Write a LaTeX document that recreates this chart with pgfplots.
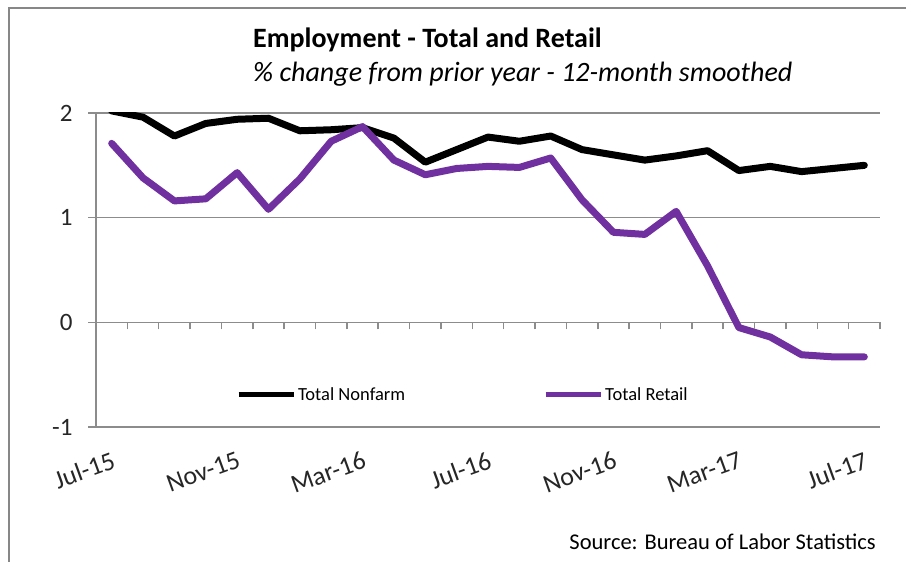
\documentclass[border=0pt]{standalone}
\usepackage{fontspec}
\setmainfont{Carlito}
\usepackage{pgfplots}
\pgfplotsset{compat=1.18}
\definecolor{gridgray}{RGB}{140,140,140}
\definecolor{retail}{RGB}{112,48,160}
\definecolor{framegray}{RGB}{135,135,135}
\begin{document}
\begin{tikzpicture}[x=1pt,y=1pt]
\path[use as bounding box] (0,0) rectangle (906,562);
\draw[framegray, line width=2.5pt] (9,0) -- (9,554) -- (906,554);
\node[anchor=base west, inner sep=0, font=\fontsize{28}{32}\selectfont\bfseries] at (253,514) {Employment - Total and Retail};
\node[anchor=base west, inner sep=0, font=\fontsize{28}{32}\selectfont\itshape] at (253,480) {\% change from prior year - 12-month smoothed};
\node[anchor=base east, inner sep=0, font=\fontsize{22.5}{26}\selectfont] at (876,12) {Source: Bureau of Labor Statistics};

\begin{axis}[
  at={(96pt,135pt)}, anchor=south west,
  scale only axis, width=784pt, height=314pt,
  xmin=-0.5, xmax=24.5, ymin=-1, ymax=2,
  axis x line*=bottom, axis y line*=left,
  axis line style={gridgray, line width=1.5pt, -},
  xtick={0,4,...,24},
  xticklabels={Jul-15,Nov-15,Mar-16,Jul-16,Nov-16,Mar-17,Jul-17},
  x tick style={draw=none},
  ytick={-1,0,1,2},
  yticklabels={-1,0,1,2},
  y tick style={gridgray, line width=1.5pt},
  tick align=outside,
  major tick length=8pt,
  ymajorgrids, grid style={gridgray, line width=1.5pt},
  tick label style={text=black!85},
  xticklabel style={font=\fontsize{26}{30}\selectfont, rotate=20, anchor=north east, yshift=-11pt, xshift=-3pt},
  yticklabel style={font=\fontsize{25}{30}\selectfont, anchor=east, xshift=-12pt},
  legend style={draw=none, fill=none, at={(0.468,0.102)}, anchor=center,
    legend columns=2, font=\fontsize{18.5}{22}\selectfont,
    /tikz/every even column/.append style={column sep=136pt}},
  legend image code/.code={\draw[#1, line width=5pt, line cap=butt] (0pt,0pt) -- (55pt,0pt);},
]
\addplot[black, line width=7pt, line join=round, line cap=round] coordinates {
(0,2.02) (1,1.96) (2,1.78) (3,1.90) (4,1.94) (5,1.95) (6,1.83) (7,1.84) (8,1.86)
(9,1.76) (10,1.53) (11,1.65) (12,1.77) (13,1.73) (14,1.78) (15,1.65) (16,1.60)
(17,1.55) (18,1.59) (19,1.64) (20,1.45) (21,1.49) (22,1.44) (23,1.47) (24,1.50)};
\addlegendentry{Total Nonfarm}
\addplot[retail, line width=7pt, line join=round, line cap=round] coordinates {
(0,1.71) (1,1.38) (2,1.16) (3,1.18) (4,1.43) (5,1.08) (6,1.37) (7,1.73) (8,1.87)
(9,1.55) (10,1.41) (11,1.47) (12,1.49) (13,1.48) (14,1.57) (15,1.17) (16,0.86)
(17,0.84) (18,1.06) (19,0.54) (20,-0.05) (21,-0.14) (22,-0.31) (23,-0.33) (24,-0.33)};
\addlegendentry{Total Retail}
\end{axis}

\begin{axis}[
  at={(96pt,135pt)}, anchor=south west,
  scale only axis, width=784pt, height=314pt,
  xmin=-0.5, xmax=24.5, ymin=-1, ymax=2,
  axis x line=middle, axis y line=none,
  axis line style={draw=none},
  xtick={-0.5,0.5,...,24.5},
  xticklabels={},
  tick align=outside,
  major tick length=7pt,
  x tick style={gridgray, line width=1.5pt},
]
\end{axis}
\end{tikzpicture}
\end{document}
